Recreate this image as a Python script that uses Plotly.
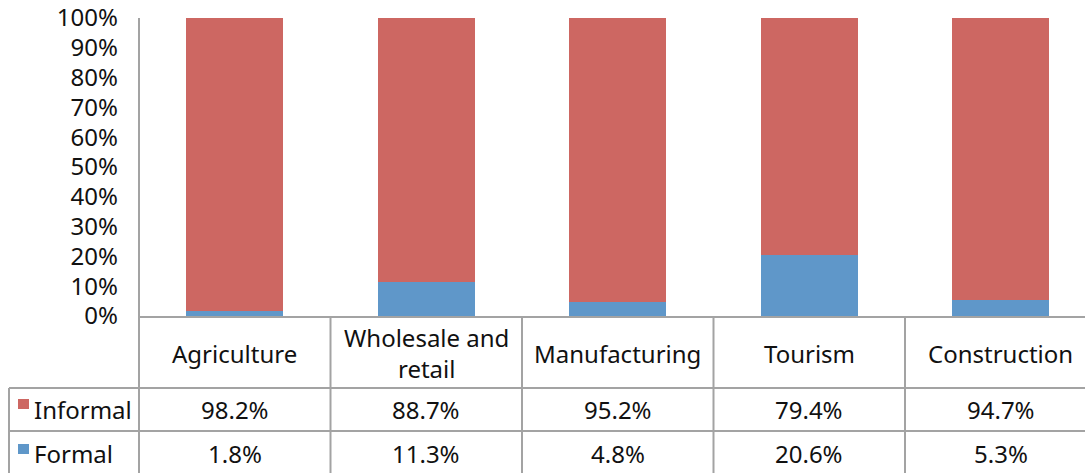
import plotly.graph_objects as go

categories = ["Agriculture", "Wholesale and retail", "Manufacturing", "Tourism", "Construction"]
category_labels = ["Agriculture", "Wholesale and<br>retail", "Manufacturing", "Tourism", "Construction"]
informal = [98.2, 88.7, 95.2, 79.4, 94.7]
formal = [1.8, 11.3, 4.8, 20.6, 5.3]
series_names = ["Informal", "Formal"]
y_ticks = [0, 10, 20, 30, 40, 50, 60, 70, 80, 90, 100]

RED = "#CD6762"
BLUE = "#5F97C9"
GRID = "#A3A3A3"
FONT = "Noto Sans"
FS = 24

PAGE_W, PAGE_H = 1085, 473
W, H = PAGE_W, PAGE_H
# plot area in page pixels
PL, PR, PT, PB = 139, 1085, 18, 316
L, T = PL, PT
R = W - PR
B = H - PB
plot_w = W - L - R
plot_h = H - T - B
x_range = [-0.5, -0.5 + plot_w / 191.5]

fig = go.Figure()
fig.add_trace(go.Bar(x=categories, y=formal, name="Formal", marker=dict(color=BLUE, line=dict(width=0)), width=0.507))
fig.add_trace(go.Bar(x=categories, y=informal, name="Informal", marker=dict(color=RED, line=dict(width=0)), width=0.507))


def px_y(y_px):
    return (PB - y_px) / plot_h


def px_x(x_px):
    return (x_px - PL) / plot_w


def cat_x(v):
    return (v - x_range[0]) / (x_range[1] - x_range[0])


shapes = []
line = dict(color=GRID, width=2)
shapes.append(dict(type="line", xref="paper", yref="paper", x0=0, x1=0, y0=1, y1=px_y(PAGE_H), line=line))
shapes.append(dict(type="line", xref="paper", yref="paper", x0=0, x1=1, y0=px_y(317), y1=px_y(317), line=line))
for yp in [388, 431]:
    shapes.append(dict(type="line", xref="paper", yref="paper", x0=px_x(9), x1=1, y0=px_y(yp), y1=px_y(yp), line=line))
shapes.append(dict(type="line", xref="paper", yref="paper", x0=px_x(9), x1=px_x(9), y0=px_y(388), y1=px_y(PAGE_H), line=line))
for i in range(1, len(categories)):
    xp = cat_x(i - 0.5)
    shapes.append(dict(type="line", xref="paper", yref="paper", x0=xp, x1=xp, y0=px_y(317), y1=px_y(PAGE_H), line=line))
for yc, col in [(404, RED), (449, BLUE)]:
    shapes.append(dict(type="rect", xref="paper", yref="paper", x0=px_x(18), x1=px_x(29),
                       y0=px_y(yc + 5), y1=px_y(yc - 5), fillcolor=col, line=dict(width=0)))

annotations = []
font = dict(family=FONT, size=FS, color="#111")
for c, lab in zip(categories, category_labels):
    annotations.append(dict(x=c, xref="x", y=px_y(353), yref="paper", text=lab, showarrow=False,
                            font=font, xanchor="center", yanchor="middle"))
for c, v in zip(categories, informal):
    annotations.append(dict(x=c, xref="x", y=px_y(410), yref="paper", text=f"{v:.1f}%", showarrow=False,
                            font=font, xanchor="center", yanchor="middle"))
for c, v in zip(categories, formal):
    annotations.append(dict(x=c, xref="x", y=px_y(454), yref="paper", text=f"{v:.1f}%", showarrow=False,
                            font=font, xanchor="center", yanchor="middle"))
for name, yc in zip(series_names, [410, 454]):
    annotations.append(dict(x=px_x(32), xref="paper", y=px_y(yc), yref="paper", text=name, showarrow=False,
                            font=font, xanchor="left", yanchor="middle"))

fig.update_layout(
    width=W, height=H,
    margin=dict(l=L, r=R, t=T, b=B, pad=0),
    barmode="stack",
    showlegend=False,
    plot_bgcolor="white", paper_bgcolor="white",
    font=dict(family=FONT, size=FS, color="#111"),
    shapes=shapes,
    annotations=annotations,
    xaxis=dict(range=x_range, showticklabels=False, showgrid=False, zeroline=False, showline=False, ticks=""),
    yaxis=dict(range=[0, 100], tickvals=y_ticks, ticktext=[f"{t}%" for t in y_ticks], showgrid=False,
               zeroline=False, showline=False, ticks="", ticklabelstandoff=20, ticklabeloverflow="allow",
               tickfont=dict(family=FONT, size=FS, color="#111")),
)

fig.write_html("out.html", config={"displayModeBar": False},
               post_script="document.body.style.margin='0';document.body.style.overflow='hidden';")
